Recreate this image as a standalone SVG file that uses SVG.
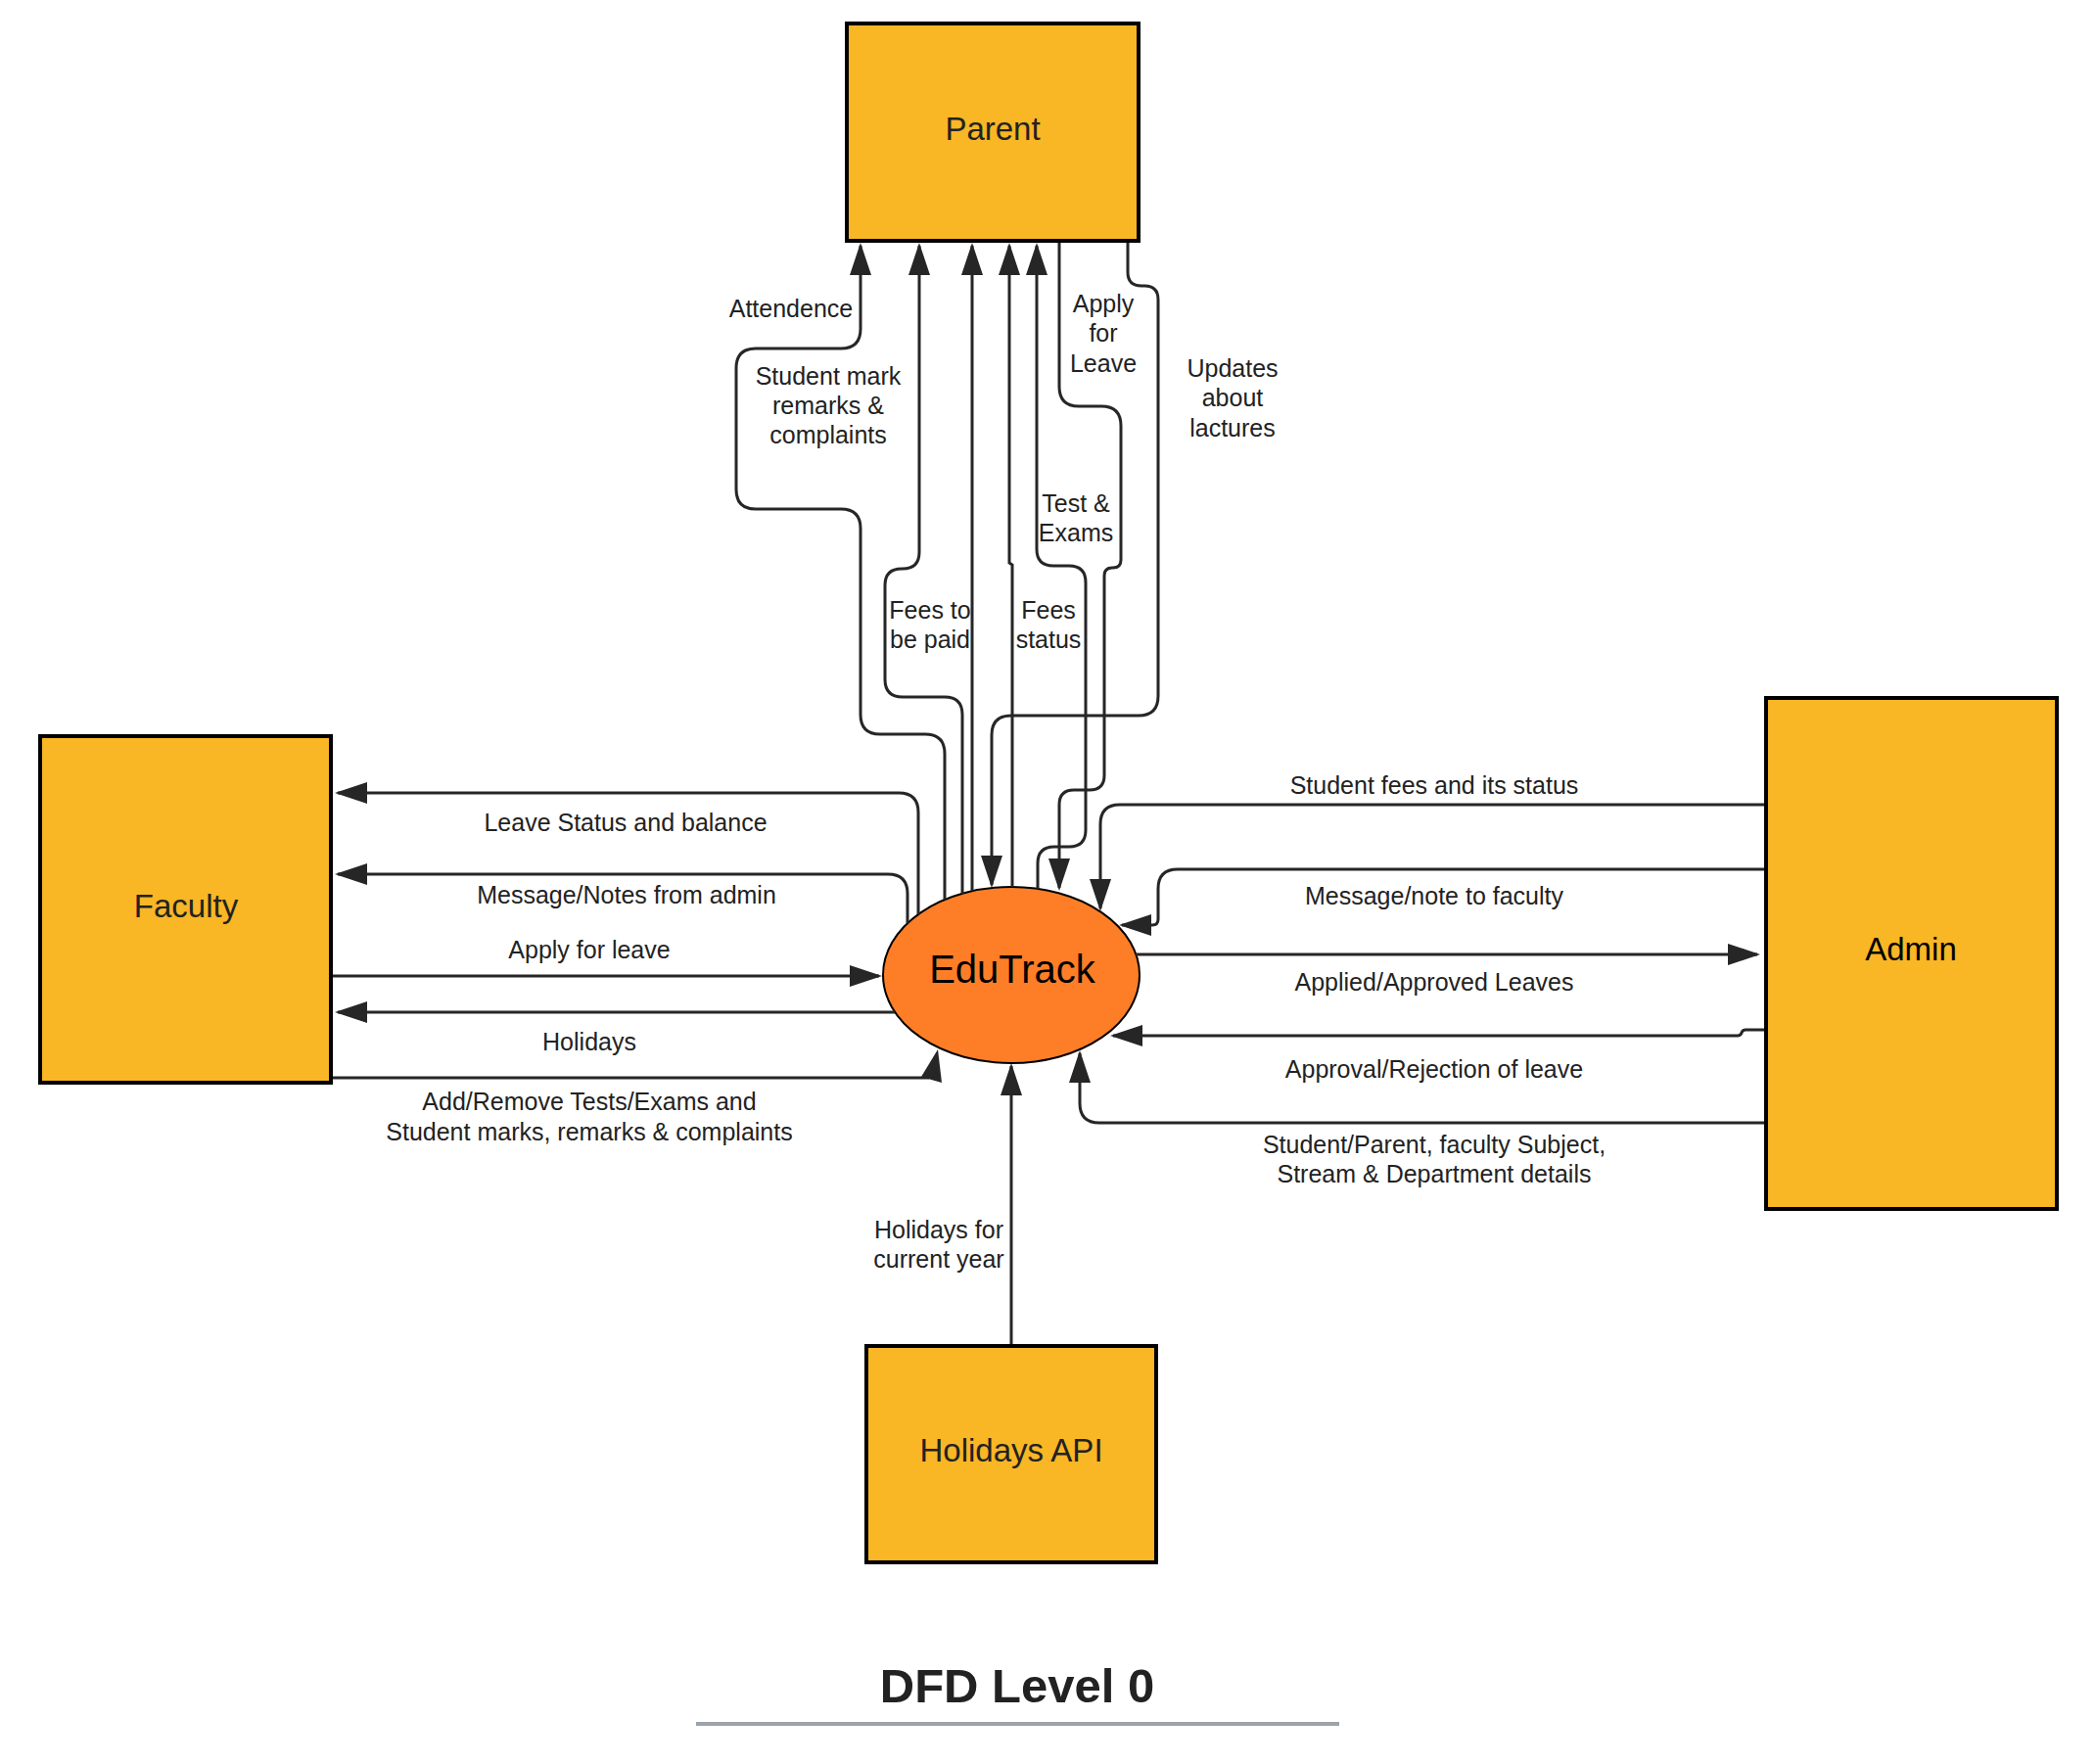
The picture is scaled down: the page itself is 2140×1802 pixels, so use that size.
<svg xmlns="http://www.w3.org/2000/svg" width="2140" height="1802" viewBox="0 0 2140 1802">
<style>
.box{fill:#F9B625;stroke:#000;stroke-width:4}
.lbl{font-family:"Liberation Sans",Arial,sans-serif;font-size:33px;fill:#222;text-anchor:middle}
.t{font-family:"Liberation Sans",Arial,sans-serif;font-size:25px;fill:#222;text-anchor:middle}
.c{fill:none;stroke:#262626;stroke-width:3;marker-end:url(#ah)}
.cn{fill:none;stroke:#262626;stroke-width:3}
</style>
<defs>
<marker id="ah" markerUnits="userSpaceOnUse" markerWidth="34" markerHeight="22" refX="30" refY="11" orient="auto" viewBox="0 0 34 22">
<path d="M0,0 L33,11 L0,22 z" fill="#262626"/>
</marker>
</defs>
<rect width="2140" height="1802" fill="#fff"/>
<g id="parent"><rect class="box" x="865" y="24" width="298" height="222"/><text class="lbl" x="1014" y="143">Parent</text></g>
<g id="faculty"><rect class="box" x="41" y="752" width="297" height="354"/><text class="lbl" x="190" y="937">Faculty</text></g>
<g id="admin"><rect class="box" x="1804" y="713" width="297" height="522"/><text class="lbl" x="1952" y="981" style="fill:#000">Admin</text></g>
<g id="holidays-api"><rect class="box" x="885" y="1375" width="296" height="221"/><text class="lbl" x="1033" y="1493">Holidays API</text></g>
<g id="edutrack"><ellipse cx="1033" cy="996" rx="131" ry="90" fill="#FE7E27" stroke="#000" stroke-width="2"/><text x="1034" y="1004" style="font-family:'Liberation Sans',Arial,sans-serif;font-size:40px;fill:#000;text-anchor:middle">EduTrack</text></g>
<g id="connectors">
<path class="c" d="M965,919 L965,770 Q965,750 945,750 L899,750 Q879,750 879,730 L879,540 Q879,520 859,520 L772,520 Q752,520 752,500 L752,376 Q752,356 772,356 L859,356 Q879,356 879,336 L879,251"/>
<path class="c" d="M983,913 L983,730 Q983,712 965,712 L922,712 Q904,712 904,694 L904,598 Q904,581 921,581 L922,581 Q939,581 939,564 L939,251"/>
<path class="c" d="M993,910 L993,251"/>
<path class="c" d="M1034,906 L1034,577 L1031,575 L1031,251"/>
<path class="c" d="M1152,248 L1152,278 Q1152,292 1166,292 L1169,292 Q1183,292 1183,306 L1183,711 Q1183,731 1163,731 L1033,731 Q1013,731 1013,751 L1013,904"/>
<path class="c" d="M1060,908 L1060,882 Q1060,865 1077,865 L1092,865 Q1109,865 1109,848 L1109,595 Q1109,578 1092,578 L1076,578 Q1059,578 1059,561 L1059,251"/>
<path class="c" d="M1082,248 L1082,395 Q1082,415 1102,415 L1125,415 Q1145,415 1145,435 L1145,572 Q1145,580 1137,580 L1136,580 Q1128,580 1128,588 L1128,792 Q1128,807 1113,807 L1097,807 Q1082,807 1082,822 L1082,907"/>
<path class="c" d="M1802,822 L1144,822 Q1124,822 1124,842 L1124,928"/>
<path class="c" d="M1802,888 L1203,888 Q1183,888 1183,908 L1183,939 Q1183,945 1177,945 L1146,945"/>
<path class="c" d="M1160,975 L1795,975"/>
<path class="c" d="M1802,1052 L1783,1052 Q1780,1052 1779,1055 Q1778,1058 1775,1058 L1137,1058"/>
<path class="c" d="M1802,1147 L1123,1147 Q1103,1147 1103,1127 L1103,1076"/>
<path class="c" d="M1033,1373 L1033,1089"/>
<path class="c" d="M938,934 L938,830 Q938,810 918,810 L345,810"/>
<path class="c" d="M927,943 L927,913 Q927,893 907,893 L345,893"/>
<path class="c" d="M340,997 L898,997"/>
<path class="c" d="M914,1034 L345,1034"/>
<path class="cn" d="M340,1101 L949,1101"/>
<polygon points="958,1072 941,1100 962,1106" fill="#262626"/>
<text class="t" x="639" y="849">Leave Status and balance</text>
<text class="t" x="640" y="923">Message/Notes from admin</text>
<text class="t" x="602" y="979">Apply for leave</text>
<text class="t" x="602" y="1073">Holidays</text>
<text class="t" x="602" y="1134">Add/Remove Tests/Exams and</text>
<text class="t" x="602" y="1165">Student marks, remarks &amp; complaints</text>
<text class="t" x="1465" y="811">Student fees and its status</text>
<text class="t" x="1465" y="924">Message/note to faculty</text>
<text class="t" x="1465" y="1012">Applied/Approved Leaves</text>
<text class="t" x="1465" y="1101">Approval/Rejection of leave</text>
<text class="t" x="1465" y="1178">Student/Parent, faculty Subject,</text>
<text class="t" x="1465" y="1208">Stream &amp; Department details</text>
<text class="t" x="808" y="324">Attendence</text>
<text class="t" x="846" y="393">Student mark</text>
<text class="t" x="846" y="423">remarks &amp;</text>
<text class="t" x="846" y="453">complaints</text>
<text class="t" x="1127" y="319">Apply</text>
<text class="t" x="1127" y="349">for</text>
<text class="t" x="1127" y="380">Leave</text>
<text class="t" x="1259" y="385">Updates</text>
<text class="t" x="1259" y="415">about</text>
<text class="t" x="1259" y="446">lactures</text>
<text class="t" x="1099" y="523">Test &amp;</text>
<text class="t" x="1099" y="553">Exams</text>
<text class="t" x="950" y="632">Fees to</text>
<text class="t" x="950" y="662">be paid</text>
<text class="t" x="1071" y="632">Fees</text>
<text class="t" x="1071" y="662">status</text>
<text class="t" x="959" y="1265">Holidays for</text>
<text class="t" x="959" y="1295">current year</text>
</g>
<g id="title">
<text x="1039" y="1739" style="font-family:'Liberation Sans',Arial,sans-serif;font-size:49px;font-weight:bold;fill:#222;text-anchor:middle">DFD Level 0</text>
<line x1="711" y1="1761" x2="1368" y2="1761" stroke="#9DA3AB" stroke-width="4"/>
</g>
</svg>
